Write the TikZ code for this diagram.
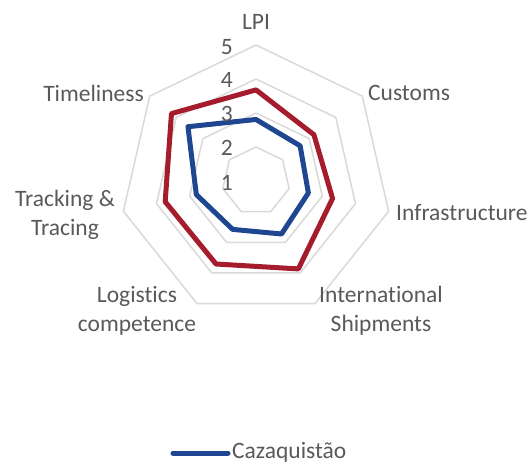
\documentclass[tikz,border=0pt]{standalone}
\usepackage{fontspec}
\setmainfont{Carlito}[Ligatures=NoCommon]
\definecolor{txt}{HTML}{595959}
\definecolor{gridc}{HTML}{D9D9D9}
\definecolor{redc}{HTML}{A51D2D}
\definecolor{bluec}{HTML}{1F4691}
\begin{document}
\begin{tikzpicture}[x=1pt,y=1pt,
  lab/.style={text=txt,font=\fontsize{23.5}{29}\selectfont,inner sep=0pt,align=center},
  numlab/.style={text=txt,font=\fontsize{23.5}{24}\selectfont,inner sep=0pt,anchor=east},
  gridline/.style={draw=gridc,line width=1.5pt,line join=round},
  series/.style={line width=5pt,line join=round}]
\useasboundingbox (0,0) rectangle (532,463);
\begin{scope}[shift={(256,282)}]
  \coordinate (c) at (0,0);
  \foreach \l in {2,3,4,5}{
    \draw[gridline] (90:{(\l-1)*34}) \foreach \k in {1,...,6}{ -- ({90-\k*360/7}:{(\l-1)*34}) } -- cycle;
  }
  % red series
  \draw[series,draw=redc]
    (90:{(3.68-1)*34}) -- ({90-1*360/7}:{(3.18-1)*34}) -- ({90-2*360/7}:{(3.31-1)*34})
    -- ({90-3*360/7}:{(3.87-1)*34}) -- ({90-4*360/7}:{(3.71-1)*34}) -- ({90-5*360/7}:{(3.74-1)*34})
    -- ({90-6*360/7}:{(4.18-1)*34}) -- cycle;
  % blue series
  \draw[series,draw=bluec]
    (90:{(2.81-1)*34}) -- ({90-1*360/7}:{(2.66-1)*34}) -- ({90-2*360/7}:{(2.58-1)*34})
    -- ({90-3*360/7}:{(2.73-1)*34}) -- ({90-4*360/7}:{(2.58-1)*34}) -- ({90-5*360/7}:{(2.80-1)*34})
    -- ({90-6*360/7}:{(3.56-1)*34}) -- cycle;
\end{scope}
% value labels
\node[numlab] (n1) at (233,280) {1};
\node[numlab] (n2) at (233,315) {2};
\node[numlab] (n3) at (233,349) {3};
\node[numlab] (n4) at (233,383) {4};
\node[numlab] (n5) at (233,416) {5};
% axis labels
\node[lab] (lpi) at (256,441) {LPI};
\node[lab,anchor=west] (cus) at (368,370) {Customs};
\node[lab,anchor=west] (inf) at (396,250) {Infrastructure};
\node[lab] (int) at (381,152) {International\\Shipments};
\node[lab] (log) at (137,152) {Logistics\\competence};
\node[lab] (trk) at (65,248) {Tracking \&\\Tracing};
\node[lab,anchor=east] (tim) at (144,370) {Timeliness};
% legend
\coordinate (la) at (173,10);
\coordinate (lb) at (228,10);
\draw[series,draw=bluec,line cap=round] (la) -- (lb);
\node[lab,anchor=base west] (leg) at (232,5) {Cazaquistão};
\end{tikzpicture}
\end{document}
